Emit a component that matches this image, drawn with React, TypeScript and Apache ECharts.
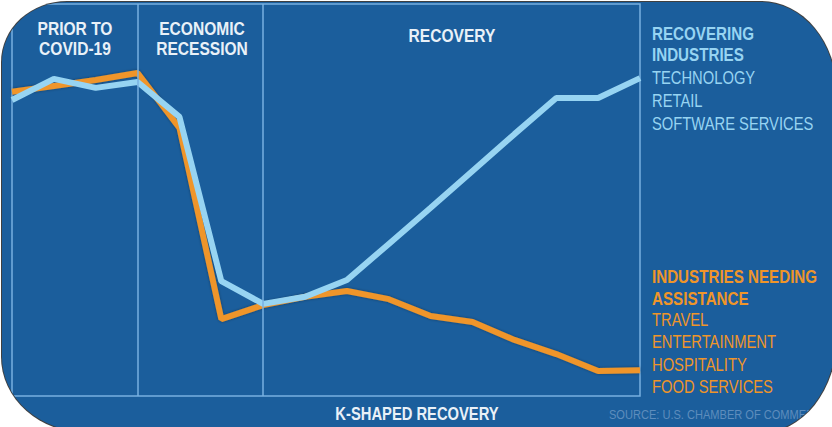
import React, { useEffect, useRef } from "react";
import * as echarts from "echarts";

const periods = ["1", "2", "3", "4", "5", "6", "7", "8", "9", "10", "11", "12", "13", "14", "15", "16"];
const recoveringValues = [75.5, 80.9, 78.6, 80.1, 71.2, 29.3, 23.5, 25.3, 29.6, 38.8, 48.0, 57.4, 66.8, 76.0, 76.0, 81.1];
const needingValues = [77.6, 79.1, 80.6, 82.4, 68.4, 19.6, 23.2, 25.3, 26.8, 24.7, 20.4, 18.9, 14.3, 10.7, 6.4, 6.6];
const phaseBoundaries = ["4", "7"];
const phaseLabels = [
  { lines: ["PRIOR TO", "COVID-19"], x: 75, y: 28.5 },
  { lines: ["ECONOMIC", "RECESSION"], x: 202, y: 28.5 },
  { lines: ["RECOVERY"], x: 452, y: 35 },
];
const recoveringTitle = ["RECOVERING", "INDUSTRIES"];
const recoveringItems = ["TECHNOLOGY", "RETAIL", "SOFTWARE SERVICES"];
const needingTitle = ["INDUSTRIES NEEDING", "ASSISTANCE"];
const needingItems = ["TRAVEL", "ENTERTAINMENT", "HOSPITALITY", "FOOD SERVICES"];
const chartTitle = "K-SHAPED RECOVERY";
const sourceText = "SOURCE: U.S. CHAMBER OF COMMERCE";

const FONT = "'Liberation Sans', Arial, sans-serif";
const NARROW = 0.82;
const BG = "#1b5e9c";
const LIGHT = "#97d4f2";
const ORANGE = "#ef9529";
const HEAD = "#e9f1f8";

function txt(text: string, x: number, y: number, font: string, fill: string, align: string = "left") {
  return {
    type: "text",
    x,
    y,
    scaleX: NARROW,
    style: { text, fill, font, textAlign: align, textVerticalAlign: "middle" },
  };
}

export default function App() {
  const ref = useRef<HTMLDivElement>(null);
  useEffect(() => {
    if (!ref.current) return;
    const chart = echarts.init(ref.current, undefined, { renderer: "svg" });
    const graphics: any[] = [];
    phaseLabels.forEach((p) => {
      p.lines.forEach((t, i) => {
        graphics.push(txt(t, p.x, p.y + i * 20, `bold 19px ${FONT}`, HEAD, "center"));
      });
    });
    const rightX = 652;
    recoveringTitle.forEach((t, i) => graphics.push(txt(t, rightX, 33.5 + i * 21.5, `bold 18.5px ${FONT}`, LIGHT)));
    recoveringItems.forEach((t, i) => graphics.push(txt(t, rightX, 77.5 + i * 22.8, `18px ${FONT}`, LIGHT)));
    needingTitle.forEach((t, i) => graphics.push(txt(t, rightX, 276.5 + i * 22, `bold 18.5px ${FONT}`, ORANGE)));
    needingItems.forEach((t, i) => graphics.push(txt(t, rightX, 319.5 + i * 22.3, `18px ${FONT}`, ORANGE)));
    graphics.push(txt(chartTitle, 417, 413.5, `bold 18px ${FONT}`, HEAD, "center"));
    graphics.push(txt(sourceText, 609, 415, `13.5px ${FONT}`, "#5e8dbd"));

    chart.setOption({
      animation: false,
      grid: {
        left: 12,
        right: 192,
        top: 4,
        bottom: 31,
        show: true,
        borderColor: "#78b0e0",
        borderWidth: 1.5,
        backgroundColor: "transparent",
      },
      xAxis: {
        type: "category",
        data: periods,
        boundaryGap: false,
        show: false,
      },
      yAxis: { type: "value", min: 0, max: 100, show: false },
      series: [
        {
          type: "line",
          data: needingValues,
          symbol: "none",
          lineStyle: { color: ORANGE, width: 6, shadowColor: "rgba(0,0,0,0.35)", shadowBlur: 3 },
          markLine: {
            silent: true,
            symbol: "none",
            label: { show: false },
            lineStyle: { color: "#78b0e0", width: 1.5, type: "solid" },
            data: phaseBoundaries.map((b) => ({ xAxis: b })),
          },
          z: 2,
        },
        {
          type: "line",
          data: recoveringValues,
          symbol: "none",
          lineStyle: { color: LIGHT, width: 6 },
          z: 3,
        },
      ],
      graphic: graphics,
    });
    return () => chart.dispose();
  }, []);

  return (
    <div style={{ position: "absolute", left: 0, top: 0, width: 832, height: 427, overflow: "hidden", background: "#ffffff" }}>
      <div
        style={{
          position: "absolute",
          left: 2,
          top: 2,
          width: 834,
          height: 430,
          background: BG,
          borderRadius: "65px 75px 75px 85px / 60px 90px 95px 75px",
          boxShadow: "0 0 0 1px rgba(30,30,30,0.85)",
          overflow: "hidden",
        }}
      >
        <div ref={ref} style={{ position: "absolute", left: -2, top: -2, width: 832, height: 427 }} />
      </div>
    </div>
  );
}
